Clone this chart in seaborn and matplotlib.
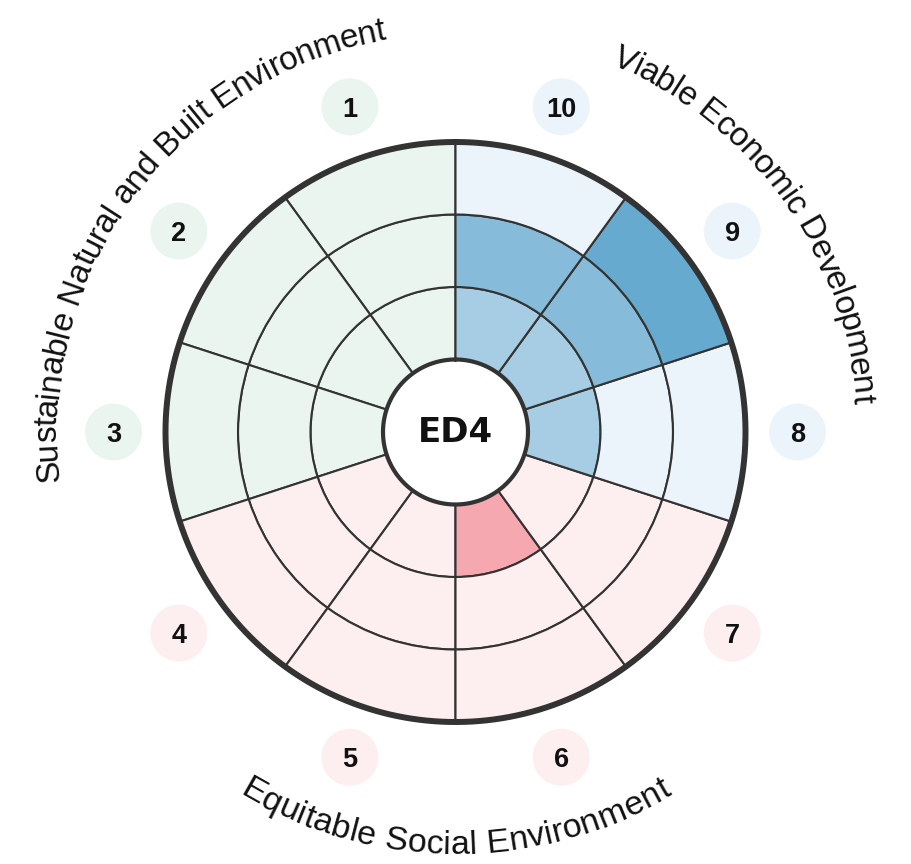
import numpy as np
import matplotlib
matplotlib.use("Agg")
import matplotlib.pyplot as plt
import seaborn as sns
import pandas as pd
from matplotlib.font_manager import FontProperties

# ---------------- data ----------------
sector_labels = ["1", "2", "3", "4", "5", "6", "7", "8", "9", "10"]
sector_groups = ["env", "env", "env", "soc", "soc", "soc", "soc", "eco", "eco", "eco"]
sector_scores = [0, 0, 0, 0, 0, 1, 0, 1, 3, 2]
group_keys = ["env", "soc", "eco"]
group_titles = ["Sustainable Natural and Built Environment",
                "Equitable Social Environment",
                "Viable Economic Development"]
center_label = "ED4"
n_levels = 3

# ---------------- style ----------------
bg_colors = {"env": "#eaf5ef", "soc": "#fdeef0", "eco": "#ecf4fb"}
level_colors = {
    "env": ["#b9dfc8", "#93cca9", "#6db98b"],
    "soc": ["#f6a8b0", "#f08795", "#e8647a"],
    "eco": ["#a6cde3", "#86bbd9", "#67aad0"],
}
line_color = "#333333"
text_color = "#111111"

sns.set_theme(style="white")
plt.rcParams["font.family"] = ["Liberation Sans", "DejaVu Sans"]

fig = plt.figure(figsize=(9.11, 8.64), dpi=100)
ax = fig.add_axes([0, 0, 1, 1], projection="polar")
ax.set_theta_zero_location("N")
ax.set_theta_direction(1)

unit_px = 72.5
rmax = 432 / unit_px

n = len(sector_labels)
width = 2 * np.pi / n
df = pd.DataFrame({"label": sector_labels, "group": sector_groups,
                   "score": sector_scores})
df["theta"] = np.arange(n) * width + width / 2
df["r_label"] = 342 / unit_px

# ring cells
for _, row in df.iterrows():
    for lvl in range(1, n_levels + 1):
        color = level_colors[row.group][lvl - 1] if lvl <= row.score else bg_colors[row.group]
        ax.bar(row.theta, 1, width=width, bottom=lvl, color=color,
               edgecolor=line_color, linewidth=1.5, align="center", zorder=2)

t = np.linspace(0, 2 * np.pi, 720)
ax.fill_between(t, 0, 1, color="white", zorder=3, linewidth=0)
ax.plot(t, np.full_like(t, 1.0), color=line_color, lw=3.0, zorder=4)
ax.plot(t, np.full_like(t, n_levels + 1.0), color=line_color, lw=4.3, zorder=4)

# number discs
sns.scatterplot(data=df, x="theta", y="r_label", hue="group", palette=bg_colors,
                s=1680, linewidth=0, legend=False, ax=ax, zorder=3)
for _, row in df.iterrows():
    ax.text(row.theta, row.r_label, row.label, ha="center", va="center_baseline",
            fontsize=19.5, fontweight="bold", color=text_color, zorder=5,
            family=["Liberation Sans", "DejaVu Sans"])

ax.text(0, 0, center_label, ha="center", va="center", fontsize=24.5,
        fontweight="bold", color=text_color, zorder=6, family="DejaVu Sans")

ax.set_xlim(0, 2 * np.pi)
ax.set_ylim(0, rmax)
ax.set_axis_off()

# curved group titles
fig.canvas.draw()
renderer = fig.canvas.get_renderer()
group_centers = {"env": 53.5, "soc": 180.0, "eco": 305.5}
group_cw = {"env": True, "soc": False, "eco": True}
group_fs = {"env": 24.0, "soc": 24.5, "eco": 24.0}
R_mid = 412.0


def curved_text(text, center_deg, cw, baseline_px, fs, family):
    prop = FontProperties(family=family, size=fs)
    pos = [renderer.get_text_width_height_descent(text[:k] + "H", prop, ismath=False)[0]
           for k in range(len(text) + 1)]
    L = pos[-1] - pos[0]
    for k, ch in enumerate(text):
        if ch == " ":
            continue
        c = (pos[k] + pos[k + 1]) / 2 - pos[0]
        d = np.degrees((c - L / 2) / R_mid)
        if cw:
            th = center_deg - d
            rot = th
        else:
            th = center_deg + d
            rot = th + 180
        ax.text(np.radians(th), baseline_px / unit_px, ch, rotation=rot,
                rotation_mode="anchor", ha="center", va="baseline",
                fontsize=fs, color=text_color, family=family, zorder=6)


for key, title in zip(group_keys, group_titles):
    base = 399.0 if group_cw[key] else 422.0
    curved_text(title, group_centers[key], group_cw[key], base, group_fs[key], "Liberation Sans")

fig.savefig("out.png", dpi=100)
